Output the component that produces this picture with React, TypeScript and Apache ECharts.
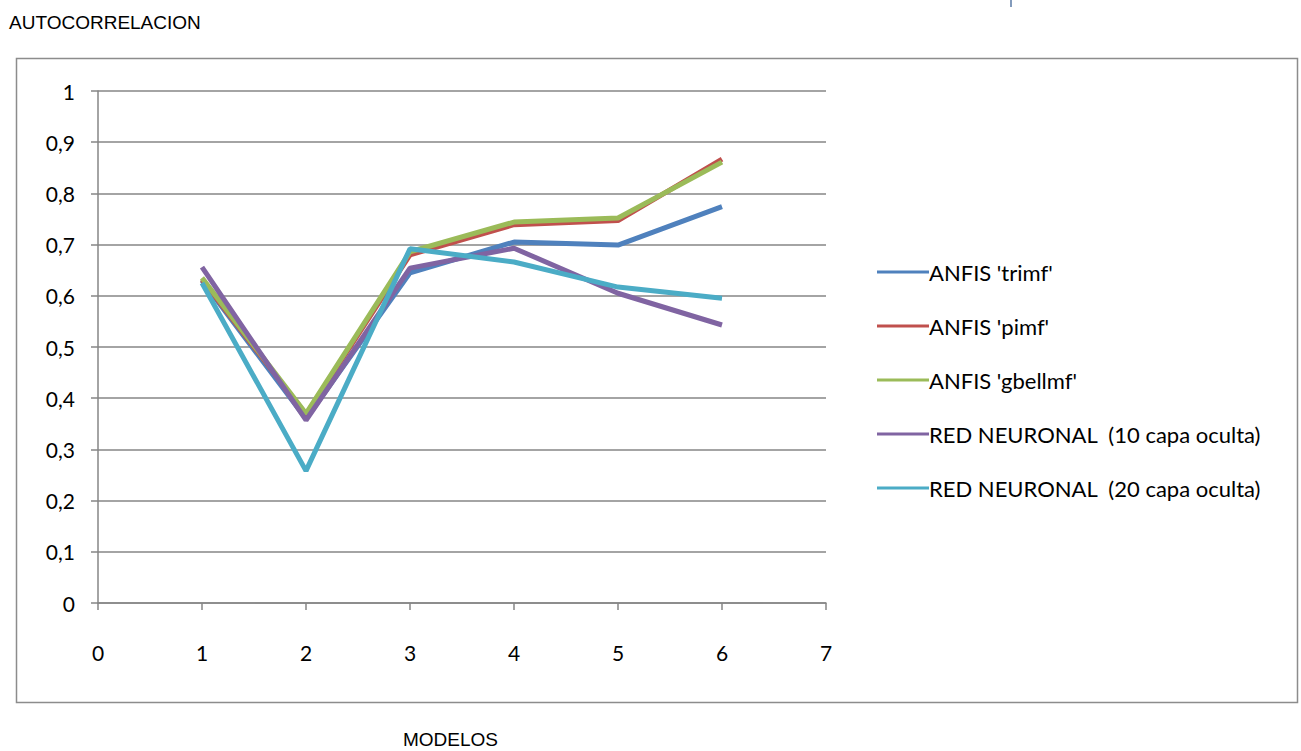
import React, { useEffect, useRef } from "react";
import * as echarts from "echarts";

// Model numbers on the x axis
const modelos = [1, 2, 3, 4, 5, 6];

// Autocorrelation per model for each method
const anfisTrimf = [0.63, 0.36, 0.645, 0.705, 0.699, 0.774];
const anfisPimf = [0.632, 0.368, 0.68, 0.739, 0.747, 0.867];
const anfisGbellmf = [0.635, 0.37, 0.686, 0.744, 0.752, 0.861];
const redNeuronal10 = [0.656, 0.357, 0.654, 0.693, 0.605, 0.543];
const redNeuronal20 = [0.625, 0.258, 0.692, 0.666, 0.617, 0.595];

const seriesNames = [
  "ANFIS 'trimf'",
  "ANFIS 'pimf'",
  "ANFIS 'gbellmf'",
  "RED NEURONAL  (10 capa oculta)",
  "RED NEURONAL  (20 capa oculta)",
];
const seriesValues = [anfisTrimf, anfisPimf, anfisGbellmf, redNeuronal10, redNeuronal20];
const seriesColors = ["#4F81BD", "#C0504D", "#9BBB59", "#8064A2", "#4BACC6"];

const axisGray = "#868686";

export default function App() {
  const ref = useRef<HTMLDivElement>(null);

  useEffect(() => {
    if (!ref.current) return;
    const chart = echarts.init(ref.current, null, { renderer: "svg" });

    const fmt = (v: number) => String(Number(v.toFixed(1))).replace(".", ",");

    chart.setOption({
      animation: false,
      backgroundColor: "#ffffff",
      textStyle: { fontFamily: "Lato" },
      grid: { left: 98, top: 91, right: 475, bottom: 148, containLabel: false },
      graphic: [
        {
          type: "rect",
          shape: { x: 16.5, y: 58.5, width: 1281, height: 644 },
          style: { fill: "none", stroke: "#8c8c8c", lineWidth: 1.5 },
          silent: true,
        },
        {
          type: "line",
          shape: { x1: 1011, y1: 0, x2: 1011, y2: 7 },
          style: { stroke: "#5a7aa6", lineWidth: 1.5 },
          silent: true,
        },
        {
          type: "text",
          left: 9,
          top: 13,
          style: {
            text: "AUTOCORRELACION",
            fontFamily: "Liberation Sans",
            fontSize: 19,
            fill: "#000",
          },
        },
        {
          type: "text",
          left: 403,
          top: 730,
          style: {
            text: "MODELOS",
            fontFamily: "Liberation Sans",
            fontSize: 19,
            fill: "#000",
          },
        },
      ],
      legend: {
        orient: "vertical",
        left: 872,
        top: 256,
        icon: "rect",
        itemWidth: 52,
        itemHeight: 3,
        itemGap: 32,
        data: seriesNames,
        textStyle: {
          fontFamily: "Lato",
          fontSize: 22,
          lineHeight: 21,
          color: "#000",
          padding: [0, 0, 0, -5],
        },
      },
      xAxis: {
        type: "value",
        min: 0,
        max: 7,
        interval: 1,
        axisLine: { onZero: false, lineStyle: { color: axisGray, width: 1.5 } },
        axisTick: { show: true, inside: false, length: 7, lineStyle: { color: axisGray, width: 1.5 } },
        splitLine: { show: false },
        axisLabel: {
          margin: 39,
          color: "#000",
          fontFamily: "Lato",
          fontSize: 21,
        },
      },
      yAxis: {
        type: "value",
        min: 0,
        max: 1,
        interval: 0.1,
        axisLine: { show: true, lineStyle: { color: axisGray, width: 1.5 } },
        axisTick: { show: true, length: 7, lineStyle: { color: axisGray, width: 1.5 } },
        splitLine: { show: true, lineStyle: { color: axisGray, width: 1.5 } },
        axisLabel: {
          margin: 23,
          color: "#000",
          fontFamily: "Lato",
          fontSize: 21,
          formatter: fmt,
        },
      },
      series: seriesNames.map((name, i) => ({
        name,
        type: "line",
        data: modelos.map((m, j) => [m, seriesValues[i][j]]),
        symbol: "none",
        showSymbol: false,
        smooth: false,
        lineStyle: { color: seriesColors[i], width: 5 },
        itemStyle: { color: seriesColors[i] },
        z: 2 + i,
      })),
    });

    return () => chart.dispose();
  }, []);

  return <div ref={ref} style={{ width: 1301, height: 751, position: "absolute", left: 0, top: 0 }} />;
}
